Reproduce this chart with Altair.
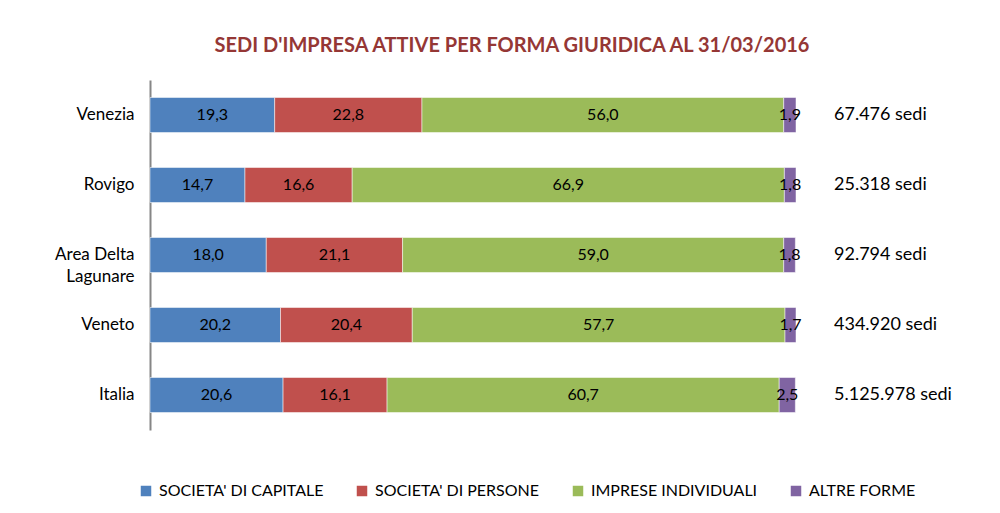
import altair as alt
import pandas as pd

regions = ["Venezia", "Rovigo", "Area Delta Lagunare", "Veneto", "Italia"]
categories = ["SOCIETA' DI CAPITALE", "SOCIETA' DI PERSONE", "IMPRESE INDIVIDUALI", "ALTRE FORME"]
capitale = [19.3, 14.7, 18.0, 20.2, 20.6]
persone = [22.8, 16.6, 21.1, 20.4, 16.1]
individuali = [56.0, 66.9, 59.0, 57.7, 60.7]
altre = [1.9, 1.8, 1.8, 1.7, 2.5]
sedi = [67476, 25318, 92794, 434920, 5125978]
colors = ["#4F81BD", "#C0504D", "#9BBB59", "#8064A2"]

series = [capitale, persone, individuali, altre]
rows = []
for ci, (cat, vals) in enumerate(zip(categories, series)):
    for r, v in zip(regions, vals):
        rows.append({"region": r, "cat": cat, "order": ci, "value": v})
df = pd.DataFrame(rows)
tot = pd.DataFrame({"region": regions, "sedi": sedi})

FONT = "Lato"

y_enc = alt.Y("region:N", sort=regions, title=None,
              scale=alt.Scale(paddingInner=0.5, paddingOuter=0.25),
              axis=alt.Axis(ticks=False, domainColor="#868686", domainWidth=2,
                            labelFontSize=17, labelFont=FONT, labelColor="#000000",
                            labelPadding=16, labelLineHeight=22,
                            labelExpr="datum.label == 'Area Delta Lagunare' ? ['Area Delta', 'Lagunare'] : datum.label"))

bars = alt.Chart(df).mark_bar(stroke="white", strokeWidth=0.5).encode(
    x=alt.X("value:Q", stack="zero", scale=alt.Scale(domain=[0, 100]), axis=None),
    y=y_enc,
    color=alt.Color("cat:N", sort=categories,
                    scale=alt.Scale(domain=categories, range=colors),
                    legend=alt.Legend(title=None, orient="none", legendX=-12, legendY=403,
                                      direction="horizontal", columns=4, symbolType="square",
                                      symbolSize=110, symbolStrokeWidth=0, labelFontSize=16,
                                      labelFont=FONT, labelColor="#000000", labelOffset=5,
                                      labelLimit=400, columnPadding=30, gridAlign="none",
                                      padding=0)),
    order=alt.Order("order:Q"),
)

labels = alt.Chart(df).transform_stack(
    stack="value", as_=["x0", "x1"], groupby=["region"], sort=[alt.SortField("order")]
).transform_calculate(
    mid="(datum.x0 + datum.x1) / 2"
).mark_text(fontSize=16, font=FONT, color="#000000").encode(
    x=alt.X("mid:Q", scale=alt.Scale(domain=[0, 100]), axis=None),
    y=alt.Y("region:N", sort=regions),
    text=alt.Text("value:Q", format=",.1f"),
)

totals = alt.Chart(tot).transform_calculate(
    lbl="format(datum.sedi, ',d') + ' sedi'"
).mark_text(fontSize=18, font=FONT, color="#000000", align="left").encode(
    x=alt.value(684),
    y=alt.Y("region:N", sort=regions),
    text="lbl:N",
)

chart = alt.layer(bars, labels, totals).properties(
    width=646, height=350,
    autosize=alt.AutoSizeParams(type="none"),
    padding={"left": 142, "top": 72, "right": 196, "bottom": 72},
    title=alt.TitleParams("SEDI D'IMPRESA ATTIVE PER FORMA GIURIDICA AL 31/03/2016",
                          fontSize=20, font=FONT, fontWeight="bold", color="#953735",
                          anchor="middle", dx=39, offset=24),
).configure_view(stroke=None)

chart.save("out.html", embed_options={"renderer": "svg", "actions": False,
                                      "formatLocale": {"decimal": ",", "thousands": ".",
                                                       "grouping": [3], "currency": ["", " €"]}})
